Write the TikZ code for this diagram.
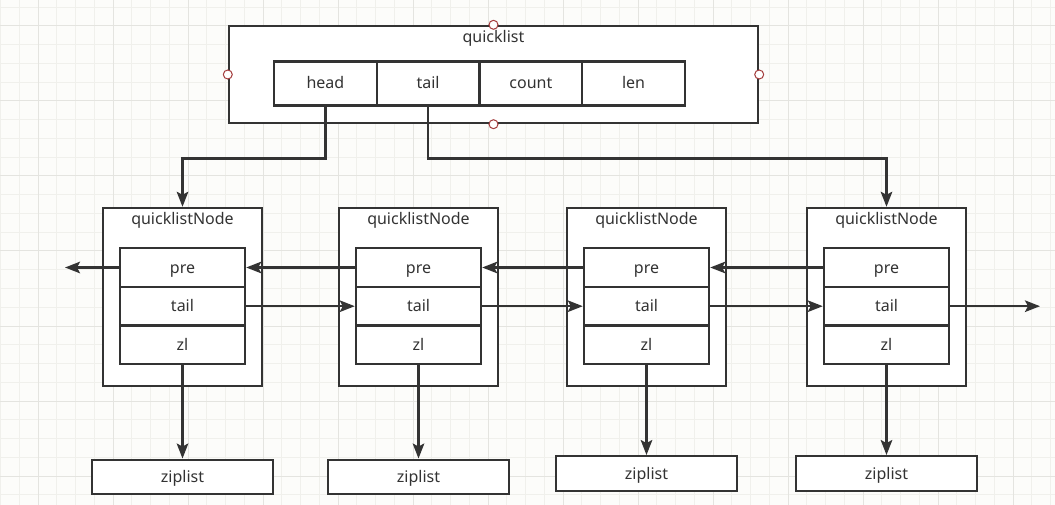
\documentclass[tikz,border=0pt]{standalone}
\usepackage{fontspec}
\setmainfont{Noto Sans}
\usetikzlibrary{arrows.meta}
\definecolor{ink}{HTML}{333333}
\definecolor{bg}{HTML}{FCFCFA}
\definecolor{gridminor}{HTML}{F0F0EC}
\definecolor{gridmajor}{HTML}{E4E4E0}
\definecolor{handle}{HTML}{A33B3B}
\tikzset{
  box/.style={draw=ink, line width=2.4pt, fill=white, inner sep=0pt},
  lbl/.style={text=ink, font=\fontsize{16}{18}\selectfont, inner sep=0pt, text height=11pt, text depth=0pt},
  qcell/.style={box, lbl, minimum width=102.75pt, minimum height=44pt},
  ncell/.style={box, lbl, minimum width=125pt, minimum height=38.7pt},
  outer/.style={box, minimum width=159pt, minimum height=178pt},
  zipbox/.style={box, lbl, minimum width=181pt, minimum height=34.5pt},
  conn/.style={draw=ink, line width=2.4pt},
  arr/.style={conn, -{Stealth[length=15pt,width=11.5pt,inset=3pt]}},
  handlept/.style={circle, draw=handle, fill=white, line width=1pt, minimum size=9pt, inner sep=0pt},
}
\begin{document}
\begin{tikzpicture}[x=1pt,y=-1pt]
\fill[bg] (0,0) rectangle (1055,505);
\useasboundingbox (0,0) rectangle (1055,505);
% grid
\foreach \i in {0,...,56} \draw[gridminor, line width=1pt] ({0.5+18.75*\i},0) -- ++(0,505);
\foreach \i in {0,...,26} \draw[gridminor, line width=1pt] (0,{7.25+18.75*\i}) -- ++(1055,0);
\foreach \i in {0,...,13} \draw[gridmajor, line width=1pt] ({38+75*\i},0) -- ++(0,505);
\foreach \i in {0,...,6} \draw[gridmajor, line width=1pt] (0,{26+75*\i}) -- ++(1055,0);

% quicklist
\node[box, minimum width=529pt, minimum height=97pt] (ql) at (493.5,74.5) {};
\node[lbl] (qlt) at (493.5,37) {quicklist};
\node[qcell] (head) at (325.4,83.5) {head};
\node[qcell] (tail) at (428.1,83.5) {tail};
\node[qcell] (count) at (530.9,83.5) {count};
\node[qcell] (len) at (633.6,83.5) {len};

% quicklistNodes
\foreach \i/\c/\zy in {1/182.5/477, 2/418.5/477, 3/646.5/473.5, 4/886.5/473.5} {
  \node[outer] (n\i) at (\c,297) {};
  \node[lbl] (nt\i) at (\c,219) {quicklistNode};
  \node[ncell] (p\i) at (\c,267.5) {pre};
  \node[ncell] (t\i) at (\c,306.2) {tail};
  \node[ncell] (z\i) at (\c,344.9) {zl};
  \node[zipbox] (zip\i) at (\c,\zy) {ziplist};
  \draw[arr] (z\i.south) -- (zip\i.north);
}

\draw[arr] (head.south) -- ++(0,52) -| (n1.north);
\draw[arr] (tail.south) -- ++(0,52) -| (n4.north);

\coordinate (leftend) at (65,267.5);
\coordinate (rightend) at (1040,306.2);
\draw[arr] (p1.west) -- (leftend);
\draw[arr] (p2.west) -- (p1.east);
\draw[arr] (p3.west) -- (p2.east);
\draw[arr] (p4.west) -- (p3.east);
\draw[arr] (t1.east) -- (t2.west);
\draw[arr] (t2.east) -- (t3.west);
\draw[arr] (t3.east) -- (t4.west);
\draw[arr] (t4.east) -- (rightend);

% selection handles
\node[handlept] (hn) at (ql.north) {};
\node[handlept] (hs) at (ql.south) {};
\node[handlept] (hw) at (ql.west) {};
\node[handlept] (he) at (ql.east) {};
\end{tikzpicture}
\end{document}
